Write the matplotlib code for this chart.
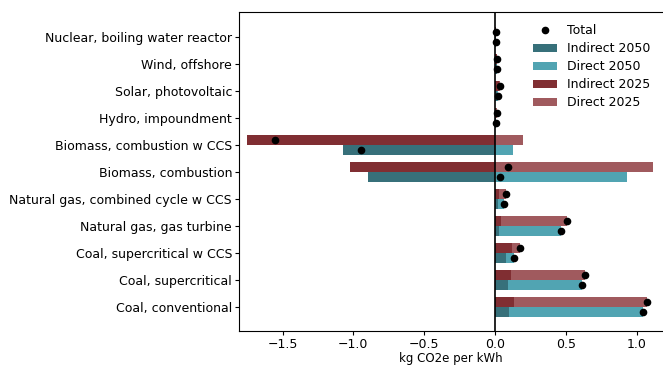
import numpy as np
import matplotlib.pyplot as plt

# Life-cycle emissions per technology, kg CO2e per kWh (bottom to top)
technologies = ['Coal, conventional', 'Coal, supercritical', 'Coal, supercritical w CCS',
                'Natural gas, gas turbine', 'Natural gas, combined cycle w CCS',
                'Biomass, combustion', 'Biomass, combustion w CCS',
                'Hydro, impoundment', 'Solar, photovoltaic', 'Wind, offshore',
                'Nuclear, boiling water reactor']

indirect_2025 = [0.134, 0.113, 0.120, 0.040, 0.028, -1.023, -1.750, 0.010, 0.030, 0.014, 0.005]
direct_2025 = [0.940, 0.525, 0.060, 0.465, 0.050, 1.113, 0.200, 0.002, 0.005, 0.002, 0.002]
indirect_2050 = [0.099, 0.092, 0.078, 0.028, 0.019, -0.896, -1.073, 0.004, 0.017, 0.011, 0.004]
direct_2050 = [0.943, 0.520, 0.055, 0.435, 0.042, 0.929, 0.125, 0.001, 0.002, 0.001, 0.001]

indirect_2025 = np.array(indirect_2025)
direct_2025 = np.array(direct_2025)
indirect_2050 = np.array(indirect_2050)
direct_2050 = np.array(direct_2050)
total_2025 = indirect_2025 + direct_2025
total_2050 = indirect_2050 + direct_2050

c_ind_2050 = '#37707a'
c_dir_2050 = '#51a4b2'
c_ind_2025 = '#802e32'
c_dir_2025 = '#a05a5e'

y = np.arange(len(technologies))
h = 0.37
y25 = y + h / 2
y50 = y - h / 2

fig = plt.figure(figsize=(6.63, 3.65), dpi=100)
ax = fig.add_axes([0.3605, 0.0932, 0.6395, 0.874])

# direct part stacks on the positive side of the indirect part
ax.barh(y50, indirect_2050, height=h, color=c_ind_2050, label='Indirect 2050')
ax.barh(y50, direct_2050, left=np.clip(indirect_2050, 0, None), height=h,
        color=c_dir_2050, label='Direct 2050')
ax.barh(y25, indirect_2025, height=h, color=c_ind_2025, label='Indirect 2025')
ax.barh(y25, direct_2025, left=np.clip(indirect_2025, 0, None), height=h,
        color=c_dir_2025, label='Direct 2025')

ax.axvline(0, color='black', lw=1.2, zorder=3)
ax.plot(total_2025, y25, 'o', color='black', ms=4.5, zorder=4, label='Total')
ax.plot(total_2050, y50, 'o', color='black', ms=4.5, zorder=4)

ax.set_yticks(y)
ax.set_yticklabels(technologies)
ax.tick_params(labelsize=9, length=3, pad=2)
ax.set_xlim(-1.807, 1.186)
ax.set_ylim(-0.9, 10.92)
ax.set_xlabel('kg CO2e per kWh', fontsize=8.5, labelpad=1)
ax.spines['right'].set_visible(False)

ax.legend(loc='upper right', frameon=False, fontsize=9, labelspacing=0.4,
          handlelength=1.9, borderaxespad=0.6)

plt.savefig('out.png', dpi=100)
